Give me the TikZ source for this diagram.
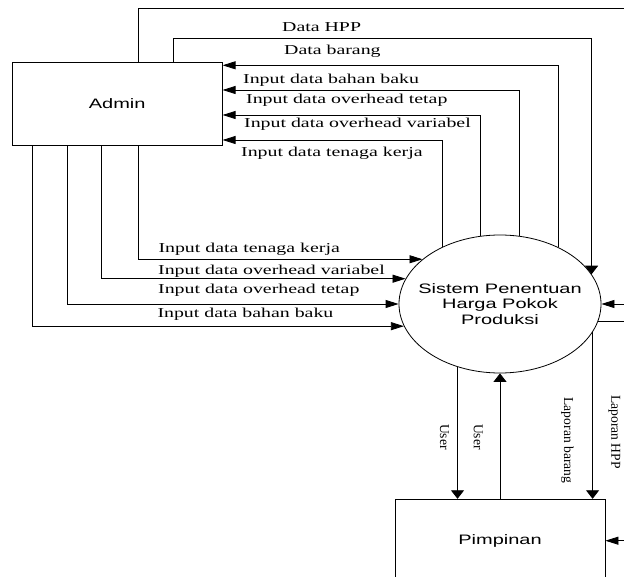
\documentclass[tikz,border=0pt]{standalone}
\usepackage{fontspec}
\setmainfont{Liberation Serif}[FakeStretch=1.46]
\newfontfamily\labelrot{Liberation Serif}
\newfontfamily\entityfont{Liberation Sans}[FakeStretch=1.46]
\usetikzlibrary{arrows.meta,shapes.geometric}

\begin{document}
\begin{tikzpicture}[x=1pt,y=1pt,
  flowline/.style={line width=0.8pt},
  harrow/.style={flowline,-{Triangle[length=13pt,width=8pt]}},
  varrow/.style={flowline,-{Triangle[length=8.5pt,width=13pt]}},
  entity/.style={draw,line width=0.8pt,minimum width=210pt,minimum height=83pt,
    inner sep=0pt,font=\entityfont\fontsize{13.7}{15.6}\selectfont},
  proc/.style={ellipse,draw,line width=0.8pt,minimum width=202pt,
    minimum height=138pt,inner sep=0pt},
  lbl/.style={anchor=west,inner sep=0pt,font=\fontsize{13.6}{15}\selectfont},
  rlbl/.style={rotate=-90,inner sep=0pt,font=\labelrot\fontsize{13.6}{15}\selectfont}]

\useasboundingbox (0,0) rectangle (624,-577);

% external entities and the process
\node[entity] (admin) at (117.2,-103.7) {Admin};
\node[entity] (pim) at (500,-540.7) {Pimpinan};
\node[proc] (sys) at (500,-304) {};
\node[align=center,inner sep=0pt,
  font=\entityfont\fontsize{13.7}{15.6}\selectfont] (systxt) at (sys.center)
  {Sistem Penentuan\\Harga Pokok\\Produksi};

% helper positions
\coordinate (xa) at (32,0);
\coordinate (xb) at (67.7,0);
\coordinate (xc) at (101,0);
\coordinate (xd) at (138.3,0);
\coordinate (xe) at (173.7,0);
\coordinate (yHPP) at (0,-8);
\coordinate (yBrg) at (0,-38);
\coordinate (edgeX) at (626,0);

% flows leaving the top of Admin
\draw[flowline] (admin.north -| xd) |- (yHPP -| edgeX);
\draw[varrow] (admin.north -| xe) |- (sys.18 |- yBrg) -- (sys.18);

% flows from the process back to Admin
\draw[harrow] (sys.44)  |- ([yshift=38.4pt]admin.east);
\draw[harrow] (sys.74)  |- ([yshift=13.7pt]admin.east);
\draw[harrow] (sys.106) |- ([yshift=-11.3pt]admin.east);
\draw[harrow] (sys.135) |- ([yshift=-36.3pt]admin.east);

% input flows from the bottom of Admin
\draw[harrow] (admin.south -| xd) |- (sys.150);
\draw[harrow] (admin.south -| xc) |- (sys.165);
\draw[harrow] (admin.south -| xb) |- (sys.west);
\draw[harrow] (admin.south -| xa) |- (sys.193);

% flows on the right edge
\draw[harrow] (sys.east -| edgeX) -- (sys.east);
\draw[flowline] (sys.350) -- (sys.350 -| edgeX);
\draw[harrow] (pim.east -| edgeX) -- (pim.east);

% flows between the process and Pimpinan
\draw[varrow] (sys.236) -- (sys.236 |- pim.north);
\draw[varrow] (pim.north) -- (sys.south);
\draw[varrow] (sys.343) -- (sys.343 |- pim.north);

% flow labels
\node[lbl] (lHPP) at (282,-26.7) {Data HPP};
\node[lbl] (lBrg) at (284,-51.7) {Data barang};
\node[lbl] (lt1) at (243,-80) {Input data bahan baku};
\node[lbl] (lt2) at (246,-100.5) {Input data overhead tetap};
\node[lbl] (lt3) at (244,-124) {Input data overhead variabel};
\node[lbl] (lt4) at (241,-153) {Input data tenaga kerja};
\node[lbl] (lb1) at (158.3,-249.3) {Input data tenaga kerja};
\node[lbl] (lb2) at (158,-271) {Input data overhead variabel};
\node[lbl] (lb3) at (158,-290.7) {Input data overhead tetap};
\node[lbl] (lb4) at (157.3,-314.3) {Input data bahan baku};

\node[rlbl] (ru1) at (444.5,-437) {User};
\node[rlbl] (ru2) at (478.3,-437) {User};
\node[rlbl] (rlb) at (567.3,-440.5) {Laporan barang};
\node[rlbl] (rlh) at (614.3,-432) {Laporan HPP};
\end{tikzpicture}
\end{document}
